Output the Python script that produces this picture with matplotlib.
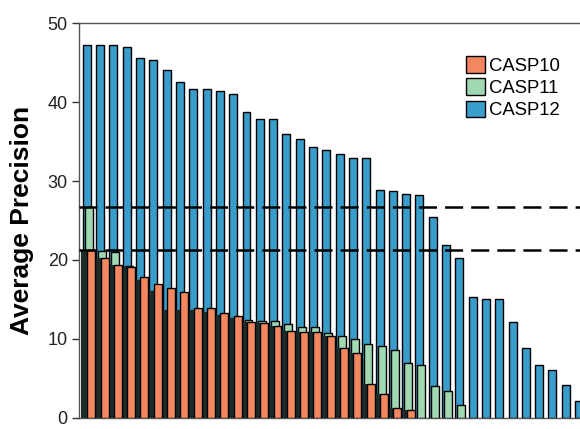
import matplotlib.pyplot as plt
import numpy as np

plt.rcParams['font.family'] = ['Liberation Sans', 'DejaVu Sans']
plt.rcParams['lines.scale_dashes'] = False

# average precision per target, each season sorted high to low
casp12 = [47.2, 47.2, 47.2, 47.0, 45.6, 45.3, 44.1, 42.6, 41.7, 41.6,
          41.4, 41.0, 38.8, 37.9, 37.9, 36.0, 35.3, 34.3, 33.9, 33.4,
          32.9, 32.9, 28.9, 28.7, 28.3, 28.2, 25.4, 21.9, 20.2, 15.3,
          15.1, 15.0, 12.1, 8.9, 6.7, 6.1, 4.1, 2.1]
casp11 = [26.7, 21.1, 21.0, 19.2, 17.5, 16.1, 13.7, 13.6, 13.6, 13.4,
          13.0, 12.6, 12.4, 12.3, 12.3, 11.9, 11.5, 11.5, 10.7, 10.4,
          10.0, 9.4, 9.1, 8.6, 6.9, 6.7, 4.0, 3.4, 1.6]
casp10 = [21.3, 20.3, 19.3, 19.1, 17.8, 16.9, 16.4, 16.0, 13.9, 13.9,
          13.3, 12.9, 12.2, 12.0, 11.6, 11.0, 10.9, 10.9, 10.4, 8.8,
          8.2, 4.3, 3.0, 1.3, 1.0]

c12 = '#389dca'
c11 = '#a0d8b2'
c10 = '#f3875f'

w = 0.6
fig = plt.figure(figsize=(5.8, 4.29), dpi=100)
ax = fig.add_axes([0.136, 0.026, 0.864, 0.92])

x12 = np.arange(len(casp12))
x11 = np.arange(len(casp11))
x10 = np.arange(len(casp10))

ax.bar(x12, casp12, width=w, align='edge', color=c12, edgecolor='black',
       linewidth=1.0, label='CASP12', zorder=2)
ax.bar(x11 + 0.15, casp11, width=w, align='edge', color=c11, edgecolor='black',
       linewidth=1.0, label='CASP11', zorder=3)

# dark band where the CASP11 bar sits behind the CASP10 bar
shade = np.minimum(np.array(casp11[:len(casp10)]), np.array(casp10))
ax.bar(x10 - 0.15, shade, width=0.48, align='edge', color='#1e2b28',
       linewidth=0, zorder=3.5)

ax.bar(x10 + 0.33, casp10, width=w, align='edge', color=c10, edgecolor='black',
       linewidth=1.0, label='CASP10', zorder=4)

# best CASP11 and CASP10 scores
for lvl in (max(casp11), max(casp10)):
    ax.axhline(lvl, color='black', linewidth=1.8, dashes=(13, 5.8), zorder=5)

ax.set_xlim(-0.3, 37.37)
ax.set_ylim(0, 50)
ax.set_yticks(range(0, 51, 10))
ax.set_xticks([])
ax.tick_params(axis='y', labelsize=13, length=5, width=1, colors='#333333',
               labelcolor='#222222', pad=3)
for side in ('top', 'left', 'bottom'):
    ax.spines[side].set_color('#555555')
    ax.spines[side].set_linewidth(1.0)
ax.spines['right'].set_visible(False)

ax.set_ylabel('Average Precision', fontsize=19, fontweight='bold', labelpad=10)

h, l = ax.get_legend_handles_labels()
order = [2, 1, 0]
ax.legend([h[i] for i in order], [l[i] for i in order], loc='upper left',
          bbox_to_anchor=(0.757, 0.935), frameon=False, fontsize=13.3,
          handlelength=1.05, handleheight=1.0, handletextpad=0.2,
          labelspacing=0.2, borderaxespad=0)

fig.savefig('out.png', dpi=100)
